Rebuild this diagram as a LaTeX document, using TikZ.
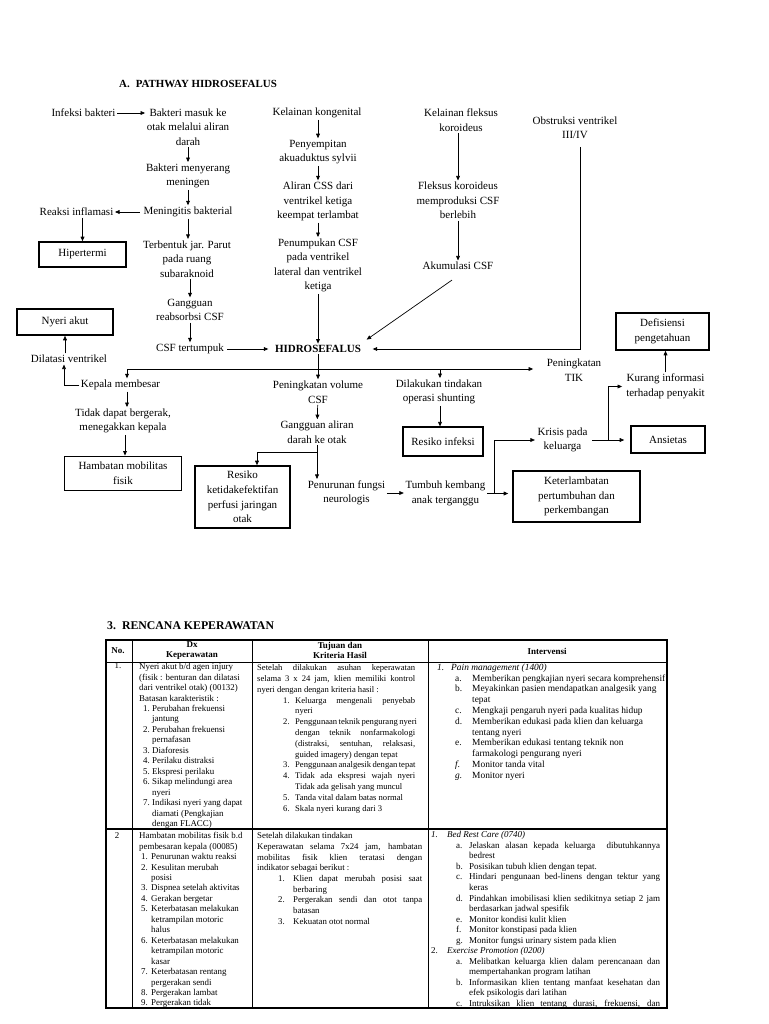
\documentclass[tikz,border=0pt]{standalone}
\usepackage{fontspec}
\setmainfont{Liberation Serif}
\usetikzlibrary{arrows.meta}
\newcommand\Lj[2]{\makebox[#1][s]{#2}}
\newcommand\LI[3]{\hspace*{#1}\makebox[#2][l]{#3}}
\newcommand\fst{\rule{0pt}{7.5pt}}
\begin{document}
\begin{tikzpicture}[x=1pt,y=-1pt,
  txt/.style={align=center, font=\fontsize{11}{14.5}\selectfont, inner sep=1.5pt},
  box/.style={draw, line width=0.9pt, align=center, font=\fontsize{11}{14.8}\selectfont, inner sep=1pt},
  tbox/.style={box, line width=1.6pt},
  arr/.style={line width=0.7pt, -{Triangle[length=4.5pt,width=3.8pt]}},
  ln/.style={line width=0.7pt},
  cell/.style={anchor=north west, inner sep=0pt, align=left},
  hd/.style={align=center, inner sep=0.5pt, font=\fontsize{9}{10.8}\selectfont\bfseries}]
\fill[white] (0,0) rectangle (768,1024);
\useasboundingbox (0,0) rectangle (768,1024);

% ---------- title ----------
\node[anchor=west, inner sep=0pt, font=\fontsize{10.9}{13}\selectfont\bfseries] (titleA) at (119,84) {A.\hspace{6pt}PATHWAY HIDROSEFALUS};

% ---------- pathway nodes ----------
\node[txt] (infeksi) at (83.5,113) {Infeksi bakteri};
\node[txt] (masuk) at (188,127) {Bakteri masuk ke\\otak melalui aliran\\darah};
\node[txt] (menyerang) at (188,176) {Bakteri menyerang\\meningen};
\node[txt] (meningitis) at (188,212) {Meningitis bakterial};
\node[txt] (reaksi) at (76.5,212) {Reaksi inflamasi};
\node[tbox, minimum width=87pt, minimum height=25pt] (hiper) at (82.5,254.5) {Hipertermi};
\node[txt] (parut) at (187,259) {Terbentuk jar. Parut\\pada ruang\\subaraknoid};
\node[txt] (gangguan) at (190,310) {Gangguan\\reabsorbsi CSF};
\node[txt] (tertumpuk) at (190,349) {CSF tertumpuk};
\node[txt, font=\fontsize{11}{14.5}\selectfont\bfseries] (hidro) at (318,349) {HIDROSEFALUS};

\node[txt] (kongenital) at (317,113) {Kelainan kongenital};
\node[txt] (sempit) at (318,152) {Penyempitan\\akuaduktus sylvii};
\node[txt] (aliran) at (318,201.5) {Aliran CSS dari\\ventrikel ketiga\\keempat terlambat};
\node[txt] (tumpuk) at (318,265.5) {Penumpukan CSF\\pada ventrikel\\lateral dan ventrikel\\ketiga};

\node[txt] (fleksus) at (461,120) {Kelainan fleksus\\koroideus};
\node[txt] (produksi) at (458,200.5) {Fleksus koroideus\\memproduksi CSF\\berlebih};
\node[txt] (akumulasi) at (458,266) {Akumulasi CSF};
\node[txt] (obstruksi) at (575,128) {Obstruksi ventrikel\\III/IV};
\node[txt] (tik) at (574,370) {Peningkatan\\TIK};

\node[txt] (kepala) at (120.5,385) {Kepala membesar};
\node[txt] (dilatasi) at (69,359) {Dilatasi ventrikel};
\node[tbox, minimum width=96pt, minimum height=26pt] (nyeri) at (65,322) {Nyeri akut};
\node[txt] (tidak) at (123,421) {Tidak dapat bergerak,\\menegakkan kepala};
\node[box, minimum width=117pt, minimum height=34pt] (hambatan) at (123,473) {Hambatan mobilitas\\fisik};

\node[txt] (volume) at (318,392) {Peningkatan volume\\CSF};
\node[txt] (darah) at (317,432) {Gangguan aliran\\darah ke otak};
\node[txt] (turun) at (346.5,493) {Penurunan fungsi\\neurologis};
\node[tbox, minimum width=95pt, minimum height=62pt] (perfusi) at (242.5,497) {Resiko\\ketidakefektifan\\perfusi jaringan\\otak};

\node[txt] (shunt) at (439,392) {Dilakukan tindakan\\operasi shunting};
\node[box, line width=1.2pt, minimum width=80pt, minimum height=29pt] (rinfeksi) at (443,441.5) {Resiko infeksi};
\node[txt] (tumbuh) at (445.5,493.5) {Tumbuh kembang\\anak terganggu};
\node[txt] (krisis) at (562.5,440) {Krisis pada\\keluarga};
\node[txt] (kurang) at (665.5,386.5) {Kurang informasi\\terhadap penyakit};
\node[tbox, minimum width=93pt, minimum height=37pt] (defis) at (662.5,331.5) {Defisiensi\\pengetahuan};
\node[tbox, minimum width=74pt, minimum height=27pt] (ansietas) at (668,439.5) {Ansietas};
\node[tbox, minimum width=127pt, minimum height=51pt] (ketl) at (576.5,496.5) {Keterlambatan\\pertumbuhan dan\\perkembangan};

% ---------- pathway connectors ----------
\draw[arr] (infeksi.east) -- (infeksi.east -| masuk.west);
\draw[arr] (masuk) -- (menyerang);
\draw[arr] (menyerang) -- (meningitis);
\draw[arr, shorten <=2pt] (meningitis.west) -- (reaksi.east);
\draw[arr] (hiper.north |- reaksi.south) -- (hiper.north);
\draw[arr] (meningitis.south) -- (meningitis.south |- parut.north);
\draw[arr] (gangguan.south |- parut.south) -- (gangguan.north);
\draw[arr] (gangguan.south) -- (tertumpuk.north);
\draw[arr, shorten <=2pt, shorten >=5pt] (tertumpuk.east) -- (hidro.west);

\draw[arr] (kongenital.south -| sempit.north) -- (sempit.north);
\draw[arr] (sempit) -- (aliran);
\draw[arr] (aliran) -- (tumpuk);
\draw[arr] (tumpuk) -- (hidro);

\draw[arr] (fleksus.south -| produksi.north) -- (produksi.north);
\draw[arr] (produksi) -- (akumulasi);
\draw[arr] ([xshift=-6pt,yshift=-8.5pt]akumulasi.south) -- ([xshift=4pt,yshift=4pt]hidro.north east);
\draw[arr, shorten <=6pt, shorten >=10pt] ([xshift=5pt]obstruksi.south) |- (hidro.east);

\coordinate (bar) at (318,369);
\draw[arr] (hidro.south) -- (volume.north);
\draw[arr, shorten >=12pt] ([xshift=6.5pt]kepala.north |- bar) -- (tik.west |- bar);
\draw[arr] ([xshift=6.5pt]kepala.north |- bar) -- ([xshift=6.5pt]kepala.north);
\draw[arr] ([xshift=1pt]shunt.north |- bar) -- ([xshift=1pt]shunt.north);

\draw[arr] (kepala.west) -| ([xshift=-5pt]dilatasi.south);
\draw[arr] (nyeri.south |- dilatasi.north) -- (nyeri.south);
\draw[arr] ([xshift=6.5pt]kepala.south) -- ([xshift=6.5pt]kepala.south |- tidak.north);
\draw[arr] ([xshift=2pt]tidak.south) -- ([xshift=2pt]tidak.south |- hambatan.north);

\draw[arr] (volume) -- (darah);
\coordinate (split) at (darah.south |- 0,452);
\draw[arr] (darah.south) -- (darah.south |- turun.north);
\draw[arr] (split) -| ([xshift=14.5pt]perfusi.north);
\draw[arr] (turun.east) -- (turun.east -| tumbuh.west);

\draw[arr] ([xshift=1pt]shunt.south) -- ([xshift=1pt]shunt.south |- rinfeksi.north);
\draw[arr, shorten >=4pt] (tumbuh.east) -- (tumbuh.east -| ketl.west);
\draw[arr, shorten >=1pt] ([xshift=7pt]tumbuh.east) |- (krisis.west);
\draw[arr, shorten <=3pt, shorten >=6pt] (krisis.east) -- (krisis.east -| ansietas.west);
\coordinate (kb) at ([xshift=19pt]krisis.east);
\draw[arr, shorten >=2.5pt] (kb) |- (kurang.west);
\draw[arr] (kurang.north) -- (kurang.north |- defis.south);

% ---------- table title ----------
\node[anchor=west, inner sep=0pt, font=\fontsize{11.8}{14}\selectfont\bfseries] (titleB) at (107,626) {3.\hspace{6pt}RENCANA KEPERAWATAN};

% ---------- table grid ----------
\draw[line width=1.4pt] (106,640) rectangle (667,1008);
\draw[line width=1pt] (106,662) -- (667,662);
\draw[line width=1.4pt] (106,829) -- (667,829);
\draw[line width=1pt] (132,640) -- (132,1008);
\draw[line width=1pt] (252,640) -- (252,1008);
\draw[line width=1pt] (428,640) -- (428,1008);

% ---------- header ----------
\node[hd] (hno) at (118,651) {No.};
\node[hd] (hdx) at (192,650.5) {Dx\\Keperawatan};
\node[hd] (htj) at (340,650.5) {Tujuan dan\\Kriteria Hasil};
\node[hd] (hiv) at (547,651) {Intervensi};

% ---------- row 1 ----------
\node[inner sep=0pt, font=\fontsize{8.9}{10.5}\selectfont] (no1) at (118,666) {1.};
\node[cell, font=\fontsize{8.9}{10.45}\selectfont] (dx1) at (139,662) {\fst Nyeri akut b/d agen injury\\
(fisik : benturan dan dilatasi\\
dari ventrikel otak) (00132)\\
Batasan karakteristik :\\
\LI{4pt}{9pt}{1.}Perubahan frekuensi\\
\hspace*{13pt}jantung\\
\LI{4pt}{9pt}{2.}Perubahan frekuensi\\
\hspace*{13pt}pernafasan\\
\LI{4pt}{9pt}{3.}Diaforesis\\
\LI{4pt}{9pt}{4.}Perilaku distraksi\\
\LI{4pt}{9pt}{5.}Ekspresi perilaku\\
\LI{4pt}{9pt}{6.}Sikap melindungi area\\
\hspace*{13pt}nyeri\\
\LI{4pt}{9pt}{7.}Indikasi nyeri yang dapat\\
\hspace*{13pt}diamati (Pengkajian\\
\hspace*{13pt}dengan FLACC)};

\node[cell, font=\fontsize{8.6}{10.8}\selectfont] (tj1) at (257,663) {\fst\Lj{158pt}{Setelah dilakukan asuhan keperawatan}\\
\Lj{158pt}{selama 3 x 24 jam, klien memiliki kontrol}\\
nyeri dengan dengan kriteria hasil :\\
\LI{26pt}{12pt}{1.}\Lj{120pt}{Keluarga mengenali penyebab}\\
\hspace*{38pt}nyeri\\
\LI{26pt}{12pt}{2.}\Lj{120pt}{Penggunaan teknik pengurang nyeri}\\
\hspace*{38pt}\Lj{120pt}{dengan teknik nonfarmakologi}\\
\hspace*{38pt}\Lj{120pt}{(distraksi, sentuhan, relaksasi,}\\
\hspace*{38pt}guided imagery) dengan tepat\\
\LI{26pt}{12pt}{3.}\Lj{120pt}{Penggunaan analgesik dengan tepat}\\
\LI{26pt}{12pt}{4.}\Lj{120pt}{Tidak ada ekspresi wajah nyeri}\\
\hspace*{38pt}Tidak ada gelisah yang muncul\\
\LI{26pt}{12pt}{5.}Tanda vital dalam batas normal\\
\LI{26pt}{12pt}{6.}Skala nyeri kurang dari 3};

\node[cell, font=\fontsize{9.4}{10.8}\selectfont] (iv1) at (431,662.5) {\fst\LI{6pt}{14pt}{\textit{1.}}\textit{Pain management (1400)}\\
\LI{24pt}{17pt}{a.}Memberikan pengkajian nyeri secara komprehensif\\
\LI{24pt}{17pt}{b.}Meyakinkan pasien mendapatkan analgesik yang\\
\hspace*{41pt}tepat\\
\LI{24pt}{17pt}{c.}Mengkaji pengaruh nyeri pada kualitas hidup\\
\LI{24pt}{17pt}{d.}Memberikan edukasi pada klien dan keluarga\\
\hspace*{41pt}tentang nyeri\\
\LI{24pt}{17pt}{e.}Memberikan edukasi tentang teknik non\\
\hspace*{41pt}farmakologi pengurang nyeri\\
\LI{24pt}{17pt}{\textit{f.}}Monitor tanda vital\\
\LI{24pt}{17pt}{\textit{g.}}Monitor nyeri};

% ---------- row 2 ----------
\node[inner sep=0pt, font=\fontsize{8.9}{10.5}\selectfont] (no2) at (117,836) {2};
\node[cell, font=\fontsize{8.9}{10.45}\selectfont] (dx2) at (139,831) {\fst Hambatan mobilitas fisik b.d\\
pembesaran kepala (00085)\\
\LI{2pt}{10pt}{1.}Penurunan waktu reaksi\\
\LI{2pt}{10pt}{2.}Kesulitan merubah\\
\hspace*{12pt}posisi\\
\LI{2pt}{10pt}{3.}Dispnea setelah aktivitas\\
\LI{2pt}{10pt}{4.}Gerakan bergetar\\
\LI{2pt}{10pt}{5.}Keterbatasan melakukan\\
\hspace*{12pt}ketrampilan motoric\\
\hspace*{12pt}halus\\
\LI{2pt}{10pt}{6.}Keterbatasan melakukan\\
\hspace*{12pt}ketrampilan motoric\\
\hspace*{12pt}kasar\\
\LI{2pt}{10pt}{7.}Keterbatasan rentang\\
\hspace*{12pt}pergerakan sendi\\
\LI{2pt}{10pt}{8.}Pergerakan lambat\\
\LI{2pt}{10pt}{9.}Pergerakan tidak};

\node[cell, font=\fontsize{8.8}{10.7}\selectfont] (tj2) at (257,831) {\fst Setelah dilakukan tindakan\\
\Lj{165pt}{Keperawatan selama 7x24 jam, hambatan}\\
\Lj{165pt}{mobilitas fisik klien teratasi dengan}\\
indikator sebagai berikut :\\
\LI{21pt}{15pt}{1.}\Lj{129pt}{Klien dapat merubah posisi saat}\\
\hspace*{36pt}berbaring\\
\LI{21pt}{15pt}{2.}\Lj{129pt}{Pergerakan sendi dan otot tanpa}\\
\hspace*{36pt}batasan\\
\LI{21pt}{15pt}{3.}Kekuatan otot normal};

\node[cell, font=\fontsize{9}{10.55}\selectfont] (iv2) at (431,830) {\fst\LI{0pt}{16pt}{\textit{1.}}\textit{Bed Rest Care (0740)}\\
\LI{25pt}{13pt}{a.}\Lj{191pt}{Jelaskan alasan kepada keluarga\ \ dibutuhkannya}\\
\hspace*{38pt}bedrest\\
\LI{25pt}{13pt}{b.}Posisikan tubuh klien dengan tepat.\\
\LI{25pt}{13pt}{c.}\Lj{191pt}{Hindari pengunaan bed-linens dengan tektur yang}\\
\hspace*{38pt}keras\\
\LI{25pt}{13pt}{d.}\Lj{191pt}{Pindahkan imobilisasi klien sedikitnya setiap 2 jam}\\
\hspace*{38pt}berdasarkan jadwal spesifik\\
\LI{25pt}{13pt}{e.}Monitor kondisi kulit klien\\
\LI{25pt}{13pt}{f.}Monitor konstipasi pada klien\\
\LI{25pt}{13pt}{g.}Monitor fungsi urinary sistem pada klien\\
\LI{0pt}{16pt}{2.}\textit{Exercise Promotion (0200)}\\
\LI{25pt}{13pt}{a.}\Lj{191pt}{Melibatkan keluarga klien dalam perencanaan dan}\\
\hspace*{38pt}mempertahankan program latihan\\
\LI{25pt}{13pt}{b.}\Lj{191pt}{Informasikan klien tentang manfaat kesehatan dan}\\
\hspace*{38pt}efek psikologis dari latihan\\
\LI{25pt}{13pt}{c.}\Lj{191pt}{Intruksikan klien tentang durasi, frekuensi, dan}};
\end{tikzpicture}
\end{document}
